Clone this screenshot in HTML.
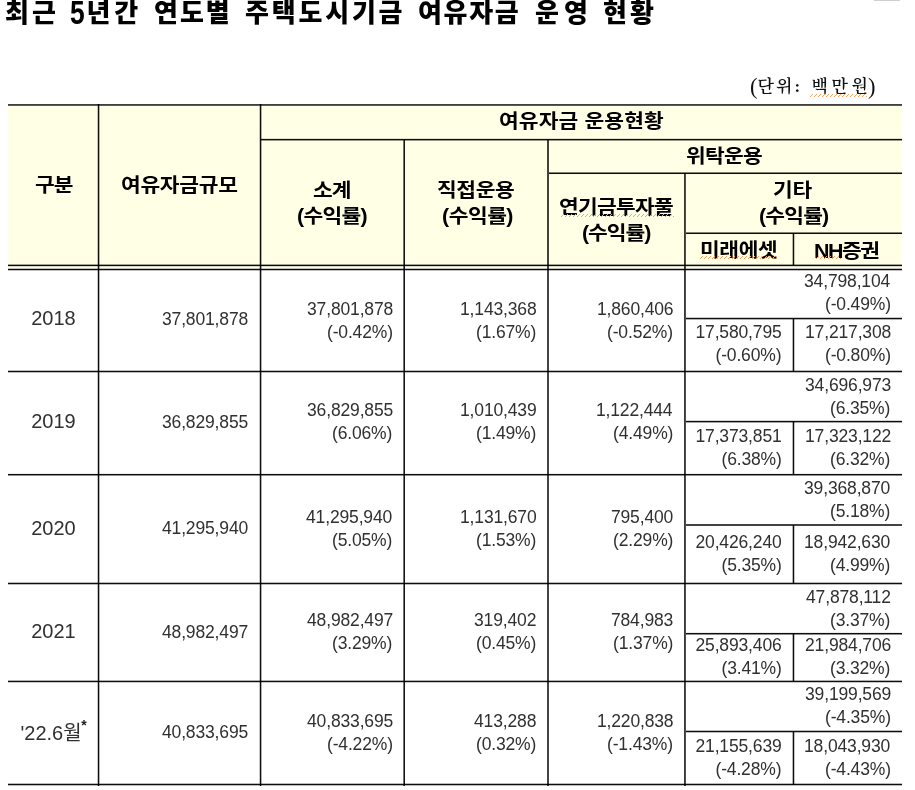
<!DOCTYPE html>
<html lang="ko"><head><meta charset="utf-8"><title>최근 5년간 연도별 주택도시기금 여유자금 운영 현황</title>
<style>*{margin:0;padding:0;box-sizing:border-box}
html,body{width:915px;height:790px;background:#fff;overflow:hidden}
body{position:relative;font-family:"Liberation Sans","Noto Sans CJK KR",sans-serif;color:#000}
.a{position:absolute;white-space:nowrap}
.h{position:absolute;background:#000}
.sq{position:absolute;height:3px;background:repeating-linear-gradient(-45deg,#eba46a 0 1.1px,transparent 1.1px 2.83px)}
.ast{position:absolute;font-family:"Liberation Sans",sans-serif;font-weight:700;font-size:14px;line-height:14px;color:#1c1c1c}
.title{font-family:"Liberation Sans","Noto Sans CJK KR",sans-serif;font-weight:900;font-size:26px;line-height:30px;color:#000}
.t5{font-family:"Liberation Sans",sans-serif;font-weight:700;font-size:33px;line-height:33px;color:#000;transform:scaleX(0.8);transform-origin:0 0}
.unit{font-family:"Liberation Serif","Noto Serif CJK KR","Noto Serif CJK SC",serif;font-weight:600;font-size:17px;line-height:22px;color:#111}
.up{font-family:"Liberation Serif",serif;font-size:22.5px;line-height:26px;color:#111}
.hd{font-family:"Liberation Sans","Noto Sans CJK KR",sans-serif;font-weight:700;font-size:19.5px;line-height:26px;color:#000;transform:scaleX(1.1);transform-origin:0 0}
.n{font-family:"Liberation Sans",sans-serif;font-size:17.5px;line-height:23px;letter-spacing:-0.15px;color:#303030}
.yr{font-family:"Liberation Sans","Noto Sans CJK KR",sans-serif;font-size:20px;line-height:24px;color:#303030}
</style></head><body>
<div class="h" style="left:8px;top:105px;width:894px;height:162px;background:#ffffe6"></div>
<div class="a title" style="left:5.00px;top:-2.40px;letter-spacing:3.20px">최근</div>
<div class="a t5" style="left:70.00px;top:-4.00px;letter-spacing:0.00px">5</div>
<div class="a title" style="left:86.46px;top:-2.40px;letter-spacing:3.80px">년간</div>
<div class="a title" style="left:154.00px;top:-2.40px;letter-spacing:2.00px">연도별</div>
<div class="a title" style="left:245.00px;top:-2.40px;letter-spacing:2.80px">주택도시기금</div>
<div class="a title" style="left:418.00px;top:-2.40px;letter-spacing:1.67px">여유자금</div>
<div class="a title" style="left:535.00px;top:-2.40px;letter-spacing:5.00px">운영</div>
<div class="a title" style="left:603.00px;top:-2.40px;letter-spacing:3.00px">현황</div>
<div class="a up" style="left:750.00px;top:74.47px;letter-spacing:0.00px">(</div>
<div class="a unit" style="left:757.47px;top:75.96px;letter-spacing:2.10px">단위:</div>
<div class="a unit" style="left:811.47px;top:75.97px;letter-spacing:3.60px">백만원</div>
<div class="a up" style="left:867.98px;top:74.47px;letter-spacing:0.00px">)</div>
<div class="a hd" style="left:34.57px;top:172.47px;letter-spacing:-0.80px">구분</div>
<div class="a hd" style="left:120.76px;top:172.00px;letter-spacing:-0.28px">여유자금규모</div>
<div class="a hd" style="left:499.38px;top:108.46px;letter-spacing:0.10px">여유자금 운용현황</div>
<div class="a hd" style="left:312.57px;top:177.45px;letter-spacing:-0.80px">소계</div>
<div class="a hd" style="left:297.19px;top:203.00px;letter-spacing:-0.65px">(수익률)</div>
<div class="a hd" style="left:436.50px;top:177.46px;letter-spacing:-0.33px">직접운용</div>
<div class="a hd" style="left:441.57px;top:203.47px;letter-spacing:-0.45px">(수익률)</div>
<div class="a hd" style="left:686.00px;top:143.47px;letter-spacing:-0.67px">위탁운용</div>
<div class="a hd" style="left:559.27px;top:194.45px;letter-spacing:-0.68px">연기금투자풀</div>
<div class="a hd" style="left:581.57px;top:220.47px;letter-spacing:-0.95px">(수익률)</div>
<div class="a hd" style="left:773.36px;top:177.46px;letter-spacing:-0.20px">기타</div>
<div class="a hd" style="left:758.50px;top:203.00px;letter-spacing:-0.75px">(수익률)</div>
<div class="a hd" style="left:699.97px;top:237.00px;letter-spacing:-0.33px">미래에셋</div>
<div class="a hd" style="left:814.00px;top:237.97px;letter-spacing:-1.33px">NH증권</div>
<div class="a yr" style="left:31.23px;top:306.46px;letter-spacing:0.00px">2018</div>
<div class="a n" style="left:161.97px;top:308.20px">37,801,878</div>
<div class="a n" style="left:307.00px;top:297.73px">37,801,878</div>
<div class="a n" style="left:326.98px;top:320.73px">(-0.42%)</div>
<div class="a n" style="left:460.00px;top:297.73px">1,143,368</div>
<div class="a n" style="left:475.98px;top:320.73px">(1.67%)</div>
<div class="a n" style="left:596.96px;top:297.73px">1,860,406</div>
<div class="a n" style="left:607.00px;top:320.73px">(-0.52%)</div>
<div class="a n" style="left:804.00px;top:270.46px">34,798,104</div>
<div class="a n" style="left:824.98px;top:293.46px">(-0.49%)</div>
<div class="a n" style="left:695.47px;top:321.45px">17,580,795</div>
<div class="a n" style="left:715.47px;top:344.45px">(-0.60%)</div>
<div class="a n" style="left:805.00px;top:321.45px">17,217,308</div>
<div class="a n" style="left:824.98px;top:344.45px">(-0.80%)</div>
<div class="a yr" style="left:31.23px;top:409.22px;letter-spacing:0.00px">2019</div>
<div class="a n" style="left:161.97px;top:411.00px">36,829,855</div>
<div class="a n" style="left:307.00px;top:399.46px">36,829,855</div>
<div class="a n" style="left:331.98px;top:422.46px">(6.06%)</div>
<div class="a n" style="left:460.00px;top:399.46px">1,010,439</div>
<div class="a n" style="left:475.98px;top:422.46px">(1.49%)</div>
<div class="a n" style="left:595.96px;top:399.46px">1,122,444</div>
<div class="a n" style="left:613.00px;top:422.46px">(4.49%)</div>
<div class="a n" style="left:805.00px;top:373.73px">34,696,973</div>
<div class="a n" style="left:829.98px;top:396.73px">(6.35%)</div>
<div class="a n" style="left:695.47px;top:425.48px">17,373,851</div>
<div class="a n" style="left:721.47px;top:448.48px">(6.38%)</div>
<div class="a n" style="left:805.00px;top:425.48px">17,323,122</div>
<div class="a n" style="left:829.98px;top:448.48px">(6.32%)</div>
<div class="a yr" style="left:31.23px;top:515.72px;letter-spacing:0.00px">2020</div>
<div class="a n" style="left:161.97px;top:517.48px">41,295,940</div>
<div class="a n" style="left:306.00px;top:506.00px">41,295,940</div>
<div class="a n" style="left:331.98px;top:529.00px">(5.05%)</div>
<div class="a n" style="left:460.00px;top:506.00px">1,131,670</div>
<div class="a n" style="left:475.98px;top:529.00px">(1.53%)</div>
<div class="a n" style="left:610.96px;top:506.00px">795,400</div>
<div class="a n" style="left:613.00px;top:529.00px">(2.29%)</div>
<div class="a n" style="left:804.00px;top:476.75px">39,368,870</div>
<div class="a n" style="left:829.98px;top:499.75px">(5.18%)</div>
<div class="a n" style="left:695.47px;top:531.47px">20,426,240</div>
<div class="a n" style="left:721.47px;top:554.47px">(5.35%)</div>
<div class="a n" style="left:804.00px;top:531.47px">18,942,630</div>
<div class="a n" style="left:829.98px;top:554.47px">(4.99%)</div>
<div class="a yr" style="left:31.23px;top:618.97px;letter-spacing:0.00px">2021</div>
<div class="a n" style="left:161.97px;top:620.73px">48,982,497</div>
<div class="a n" style="left:307.00px;top:609.25px">48,982,497</div>
<div class="a n" style="left:331.98px;top:632.25px">(3.29%)</div>
<div class="a n" style="left:474.00px;top:609.25px">319,402</div>
<div class="a n" style="left:475.98px;top:632.25px">(0.45%)</div>
<div class="a n" style="left:610.96px;top:609.25px">784,983</div>
<div class="a n" style="left:613.00px;top:632.25px">(1.37%)</div>
<div class="a n" style="left:806.00px;top:585.71px">47,878,112</div>
<div class="a n" style="left:829.98px;top:608.71px">(3.37%)</div>
<div class="a n" style="left:695.47px;top:634.22px">25,893,406</div>
<div class="a n" style="left:721.47px;top:657.22px">(3.41%)</div>
<div class="a n" style="left:805.00px;top:634.22px">21,984,706</div>
<div class="a n" style="left:829.98px;top:657.22px">(3.32%)</div>
<div class="a yr" style="left:20.48px;top:720.98px;letter-spacing:0.00px">'22.6월</div>
<div class="a n" style="left:161.97px;top:721.23px">40,833,695</div>
<div class="a n" style="left:307.00px;top:709.75px">40,833,695</div>
<div class="a n" style="left:326.98px;top:732.75px">(-4.22%)</div>
<div class="a n" style="left:474.00px;top:709.75px">413,288</div>
<div class="a n" style="left:475.98px;top:732.75px">(0.32%)</div>
<div class="a n" style="left:596.96px;top:709.75px">1,220,838</div>
<div class="a n" style="left:607.00px;top:732.75px">(-1.43%)</div>
<div class="a n" style="left:805.00px;top:683.25px">39,199,569</div>
<div class="a n" style="left:824.98px;top:706.25px">(-4.35%)</div>
<div class="a n" style="left:695.47px;top:735.22px">21,155,639</div>
<div class="a n" style="left:715.47px;top:758.22px">(-4.28%)</div>
<div class="a n" style="left:804.00px;top:735.22px">18,043,930</div>
<div class="a n" style="left:824.98px;top:758.22px">(-4.43%)</div>
<div class="ast" style="left:81.3px;top:717.6px">*</div>
<div class="sq" style="left:810px;top:93.5px;width:57px"></div>
<div class="sq" style="left:560px;top:214px;width:114px"></div>
<div class="sq" style="left:700px;top:256px;width:77px"></div>
<div class="sq" style="left:815px;top:256px;width:26px"></div>
<div class="h" style="left:8px;top:104px;width:894px;height:1px;background:rgba(0,0,0,0.75)"></div>
<div class="h" style="left:8px;top:105px;width:894px;height:1px;background:rgba(0,0,0,0.65)"></div>
<div class="h" style="left:261px;top:138px;width:641px;height:1px;background:rgba(0,0,0,0.119)"></div>
<div class="h" style="left:261px;top:139px;width:641px;height:1px;background:rgba(0,0,0,0.95)"></div>
<div class="h" style="left:261px;top:140px;width:641px;height:1px;background:rgba(0,0,0,0.404)"></div>
<div class="h" style="left:549px;top:172px;width:353px;height:1px;background:rgba(0,0,0,0.499)"></div>
<div class="h" style="left:549px;top:173px;width:353px;height:1px;background:rgba(0,0,0,0.95)"></div>
<div class="h" style="left:549px;top:174px;width:353px;height:1px;background:rgba(0,0,0,0.024)"></div>
<div class="h" style="left:686px;top:232px;width:216px;height:1px;background:rgba(0,0,0,0.499)"></div>
<div class="h" style="left:686px;top:233px;width:216px;height:1px;background:rgba(0,0,0,0.95)"></div>
<div class="h" style="left:686px;top:234px;width:216px;height:1px;background:rgba(0,0,0,0.024)"></div>
<div class="h" style="left:8px;top:264px;width:894px;height:1px;background:rgba(0,0,0,0.356)"></div>
<div class="h" style="left:8px;top:265px;width:894px;height:1px;background:rgba(0,0,0,0.95)"></div>
<div class="h" style="left:8px;top:266px;width:894px;height:1px;background:rgba(0,0,0,0.166)"></div>
<div class="h" style="left:8px;top:268px;width:894px;height:1px;background:rgba(0,0,0,0.261)"></div>
<div class="h" style="left:8px;top:269px;width:894px;height:1px;background:rgba(0,0,0,0.95)"></div>
<div class="h" style="left:8px;top:270px;width:894px;height:1px;background:rgba(0,0,0,0.261)"></div>
<div class="h" style="left:686px;top:317px;width:216px;height:1px;background:rgba(0,0,0,0.214)"></div>
<div class="h" style="left:686px;top:318px;width:216px;height:1px;background:rgba(0,0,0,0.95)"></div>
<div class="h" style="left:686px;top:319px;width:216px;height:1px;background:rgba(0,0,0,0.309)"></div>
<div class="h" style="left:8px;top:370px;width:894px;height:1px;background:rgba(0,0,0,0.261)"></div>
<div class="h" style="left:8px;top:371px;width:894px;height:1px;background:rgba(0,0,0,0.95)"></div>
<div class="h" style="left:8px;top:372px;width:894px;height:1px;background:rgba(0,0,0,0.261)"></div>
<div class="h" style="left:686px;top:420px;width:216px;height:1px;background:rgba(0,0,0,0.166)"></div>
<div class="h" style="left:686px;top:421px;width:216px;height:1px;background:rgba(0,0,0,0.95)"></div>
<div class="h" style="left:686px;top:422px;width:216px;height:1px;background:rgba(0,0,0,0.356)"></div>
<div class="h" style="left:8px;top:473px;width:894px;height:1px;background:rgba(0,0,0,0.071)"></div>
<div class="h" style="left:8px;top:474px;width:894px;height:1px;background:rgba(0,0,0,0.95)"></div>
<div class="h" style="left:8px;top:475px;width:894px;height:1px;background:rgba(0,0,0,0.451)"></div>
<div class="h" style="left:686px;top:524px;width:216px;height:1px;background:rgba(0,0,0,0.736)"></div>
<div class="h" style="left:686px;top:525px;width:216px;height:1px;background:rgba(0,0,0,0.736)"></div>
<div class="h" style="left:8px;top:582px;width:894px;height:1px;background:rgba(0,0,0,0.261)"></div>
<div class="h" style="left:8px;top:583px;width:894px;height:1px;background:rgba(0,0,0,0.95)"></div>
<div class="h" style="left:8px;top:584px;width:894px;height:1px;background:rgba(0,0,0,0.261)"></div>
<div class="h" style="left:686px;top:632px;width:216px;height:1px;background:rgba(0,0,0,0.071)"></div>
<div class="h" style="left:686px;top:633px;width:216px;height:1px;background:rgba(0,0,0,0.95)"></div>
<div class="h" style="left:686px;top:634px;width:216px;height:1px;background:rgba(0,0,0,0.451)"></div>
<div class="h" style="left:8px;top:680px;width:894px;height:1px;background:rgba(0,0,0,0.309)"></div>
<div class="h" style="left:8px;top:681px;width:894px;height:1px;background:rgba(0,0,0,0.95)"></div>
<div class="h" style="left:8px;top:682px;width:894px;height:1px;background:rgba(0,0,0,0.214)"></div>
<div class="h" style="left:686px;top:730px;width:216px;height:1px;background:rgba(0,0,0,0.261)"></div>
<div class="h" style="left:686px;top:731px;width:216px;height:1px;background:rgba(0,0,0,0.95)"></div>
<div class="h" style="left:686px;top:732px;width:216px;height:1px;background:rgba(0,0,0,0.261)"></div>
<div class="h" style="left:8px;top:783px;width:894px;height:1px;background:rgba(0,0,0,0.261)"></div>
<div class="h" style="left:8px;top:784px;width:894px;height:1px;background:rgba(0,0,0,0.95)"></div>
<div class="h" style="left:8px;top:785px;width:894px;height:1px;background:rgba(0,0,0,0.261)"></div>
<div class="h" style="left:97px;top:104px;width:1px;height:682px;background:rgba(0,0,0,0.223)"></div>
<div class="h" style="left:98px;top:104px;width:1px;height:682px;background:rgba(0,0,0,0.95)"></div>
<div class="h" style="left:99px;top:104px;width:1px;height:682px;background:rgba(0,0,0,0.299)"></div>
<div class="h" style="left:259px;top:104px;width:1px;height:682px;background:rgba(0,0,0,0.214)"></div>
<div class="h" style="left:260px;top:104px;width:1px;height:682px;background:rgba(0,0,0,0.95)"></div>
<div class="h" style="left:261px;top:104px;width:1px;height:682px;background:rgba(0,0,0,0.309)"></div>
<div class="h" style="left:403px;top:140px;width:1px;height:646px;background:rgba(0,0,0,0.546)"></div>
<div class="h" style="left:404px;top:140px;width:1px;height:646px;background:rgba(0,0,0,0.926)"></div>
<div class="h" style="left:547px;top:140px;width:1px;height:646px;background:rgba(0,0,0,0.736)"></div>
<div class="h" style="left:548px;top:140px;width:1px;height:646px;background:rgba(0,0,0,0.736)"></div>
<div class="h" style="left:684px;top:173px;width:1px;height:613px;background:rgba(0,0,0,0.784)"></div>
<div class="h" style="left:685px;top:173px;width:1px;height:613px;background:rgba(0,0,0,0.689)"></div>
<div class="h" style="left:792px;top:233px;width:1px;height:33px;background:rgba(0,0,0,0.29)"></div>
<div class="h" style="left:793px;top:233px;width:1px;height:33px;background:rgba(0,0,0,0.95)"></div>
<div class="h" style="left:794px;top:233px;width:1px;height:33px;background:rgba(0,0,0,0.233)"></div>
<div class="h" style="left:792px;top:318px;width:1px;height:54px;background:rgba(0,0,0,0.29)"></div>
<div class="h" style="left:793px;top:318px;width:1px;height:54px;background:rgba(0,0,0,0.95)"></div>
<div class="h" style="left:794px;top:318px;width:1px;height:54px;background:rgba(0,0,0,0.233)"></div>
<div class="h" style="left:792px;top:421px;width:1px;height:54px;background:rgba(0,0,0,0.29)"></div>
<div class="h" style="left:793px;top:421px;width:1px;height:54px;background:rgba(0,0,0,0.95)"></div>
<div class="h" style="left:794px;top:421px;width:1px;height:54px;background:rgba(0,0,0,0.233)"></div>
<div class="h" style="left:792px;top:525px;width:1px;height:59px;background:rgba(0,0,0,0.29)"></div>
<div class="h" style="left:793px;top:525px;width:1px;height:59px;background:rgba(0,0,0,0.95)"></div>
<div class="h" style="left:794px;top:525px;width:1px;height:59px;background:rgba(0,0,0,0.233)"></div>
<div class="h" style="left:792px;top:633px;width:1px;height:49px;background:rgba(0,0,0,0.29)"></div>
<div class="h" style="left:793px;top:633px;width:1px;height:49px;background:rgba(0,0,0,0.95)"></div>
<div class="h" style="left:794px;top:633px;width:1px;height:49px;background:rgba(0,0,0,0.233)"></div>
<div class="h" style="left:792px;top:731px;width:1px;height:54px;background:rgba(0,0,0,0.29)"></div>
<div class="h" style="left:793px;top:731px;width:1px;height:54px;background:rgba(0,0,0,0.95)"></div>
<div class="h" style="left:794px;top:731px;width:1px;height:54px;background:rgba(0,0,0,0.233)"></div>
<div class="h" style="left:874px;top:0;width:26px;height:1px;background:#cfcfcf"></div>
</body></html>
